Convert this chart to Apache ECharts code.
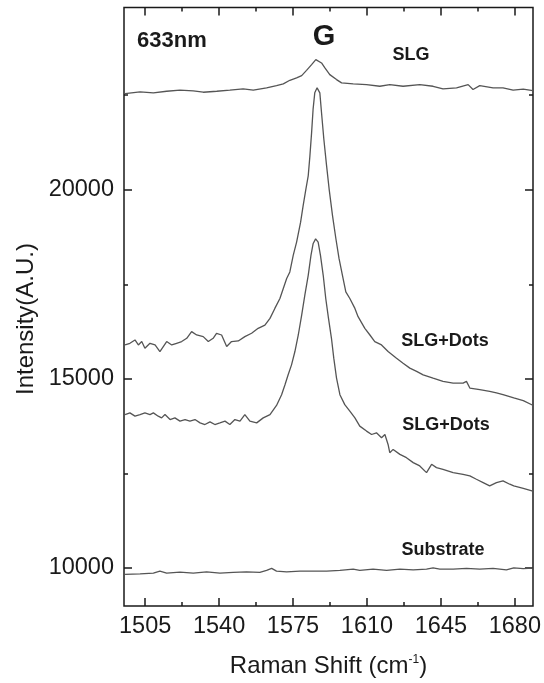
<!DOCTYPE html>
<html>
<head>
<meta charset="utf-8">
<script src="https://cdn.jsdelivr.net/npm/echarts@6/dist/echarts.min.js"></script>
<style>
html,body{margin:0;padding:0;background:#fff;}
#chart{width:544px;height:683px;}
</style>
</head>
<body>
<div id="chart"></div>
<script>
// ---- data ----
const xMajorTicks = [1505, 1540, 1575, 1610, 1645, 1680];
const xMinorTicks = [1522.5, 1557.5, 1592.5, 1627.5, 1662.5];
const yMajorTicks = [10000, 15000, 20000];
const yMinorTicks = [12500, 17500, 22500];

const slgX = [1495.5, 1496.3, 1502.6, 1508.9, 1515.2, 1521.5, 1527.8, 1532.5, 1538.9, 1545.1, 1551.4, 1556.2, 1562.5, 1567.2, 1570.4, 1573.5, 1576.7, 1579.1, 1581.4, 1583.8, 1585.8, 1588.5, 1590.1, 1592.4, 1595.6, 1598.0, 1603.5, 1609.8, 1616.1, 1620.8, 1627.1, 1635.0, 1641.3, 1646.0, 1652.4, 1657.9, 1660.2, 1663.4, 1669.7, 1674.4, 1679.2, 1684.0, 1688.5];
const slgY = [22540, 22563, 22590, 22563, 22605, 22632, 22616, 22579, 22605, 22632, 22668, 22632, 22695, 22755, 22800, 22895, 22958, 23018, 23158, 23308, 23440, 23353, 23221, 23045, 22913, 22826, 22800, 22781, 22737, 22781, 22737, 22781, 22737, 22668, 22695, 22781, 22650, 22755, 22695, 22695, 22632, 22660, 22620];

const dotsAX = [1495.5, 1497.8, 1500.2, 1501.8, 1503.4, 1504.9, 1507.3, 1509.7, 1512.0, 1515.2, 1517.6, 1519.9, 1522.3, 1524.7, 1527.0, 1529.4, 1532.5, 1534.9, 1537.2, 1538.8, 1541.2, 1543.6, 1545.9, 1549.1, 1552.2, 1555.4, 1558.5, 1561.7, 1564.1, 1566.4, 1568.8, 1570.4, 1572.0, 1573.5, 1575.1, 1576.7, 1578.6, 1579.8, 1581.1, 1582.2, 1583.0, 1583.8, 1584.5, 1585.3, 1586.4, 1587.7, 1588.5, 1589.6, 1590.9, 1592.1, 1593.7, 1595.3, 1596.8, 1598.4, 1600.0, 1601.9, 1604.3, 1605.8, 1609.0, 1611.4, 1613.7, 1616.9, 1620.0, 1624.0, 1627.1, 1630.3, 1633.5, 1636.6, 1641.3, 1646.0, 1650.8, 1655.5, 1657.1, 1658.7, 1663.4, 1668.1, 1671.3, 1674.4, 1679.5, 1684.0, 1688.5];
const dotsAY = [15895, 15939, 16026, 15895, 15984, 15808, 15939, 15895, 15721, 15984, 15895, 15939, 15984, 16071, 16247, 16158, 16115, 15984, 16071, 16203, 16158, 15852, 15984, 16000, 16115, 16203, 16334, 16421, 16597, 16861, 17124, 17387, 17650, 17826, 18263, 18616, 19142, 19579, 20018, 20368, 20895, 21510, 22124, 22563, 22695, 22563, 22037, 21334, 20632, 20018, 19316, 18703, 18176, 17737, 17300, 17124, 16861, 16642, 16334, 16158, 15984, 15895, 15721, 15545, 15413, 15282, 15195, 15105, 15018, 14932, 14887, 14887, 14932, 14755, 14711, 14668, 14624, 14580, 14492, 14420, 14300];

const dotsBX = [1495.5, 1497.8, 1500.2, 1502.6, 1504.9, 1507.3, 1508.9, 1511.2, 1512.8, 1514.4, 1516.8, 1519.1, 1521.5, 1523.9, 1526.2, 1528.6, 1531.0, 1533.3, 1535.7, 1538.0, 1540.4, 1542.8, 1545.1, 1547.5, 1549.9, 1552.2, 1554.6, 1557.8, 1560.9, 1564.1, 1567.2, 1569.6, 1571.2, 1572.7, 1574.3, 1575.9, 1577.5, 1579.1, 1580.6, 1582.2, 1583.5, 1584.5, 1585.7, 1586.9, 1588.0, 1589.3, 1590.5, 1591.8, 1593.2, 1594.3, 1595.6, 1597.2, 1599.5, 1601.9, 1604.3, 1606.6, 1609.8, 1612.2, 1614.5, 1616.9, 1618.5, 1620.0, 1620.8, 1622.4, 1625.6, 1628.7, 1631.9, 1635.0, 1638.2, 1640.6, 1642.9, 1646.0, 1650.8, 1655.5, 1658.7, 1661.8, 1665.0, 1668.1, 1671.3, 1674.4, 1677.6, 1679.5, 1684.0, 1688.5];
const dotsBY = [14053, 14097, 14011, 14053, 14097, 14053, 14097, 14011, 13966, 14053, 13921, 13966, 13879, 13921, 13879, 13921, 13834, 13790, 13861, 13790, 13834, 13879, 13790, 13921, 13879, 14053, 13879, 13834, 13966, 14053, 14295, 14579, 14842, 15105, 15368, 15721, 16158, 16684, 17211, 17737, 18263, 18571, 18700, 18616, 18263, 17737, 17124, 16597, 16071, 15545, 15018, 14579, 14316, 14142, 13966, 13747, 13616, 13526, 13571, 13439, 13526, 13263, 13045, 13132, 13000, 12913, 12782, 12695, 12518, 12737, 12650, 12605, 12518, 12474, 12432, 12342, 12255, 12168, 12255, 12300, 12211, 12168, 12100, 12030];

const subX = [1495.5, 1502.6, 1508.9, 1512.0, 1515.2, 1521.5, 1527.8, 1534.1, 1540.4, 1546.7, 1553.0, 1559.3, 1562.5, 1564.9, 1567.2, 1572.0, 1578.3, 1584.5, 1590.9, 1597.2, 1603.5, 1606.6, 1612.9, 1619.3, 1625.6, 1631.9, 1638.2, 1641.3, 1644.5, 1650.8, 1657.1, 1663.4, 1669.7, 1676.0, 1679.5, 1684.0, 1688.5];
const subY = [9826, 9842, 9861, 9913, 9861, 9887, 9861, 9895, 9861, 9879, 9895, 9879, 9932, 9984, 9913, 9895, 9913, 9913, 9913, 9932, 9966, 9932, 9966, 9932, 9966, 9947, 9966, 10000, 9966, 9966, 9984, 9966, 9984, 9947, 10000, 9980, 9990];

const X_MIN = 1495, X_MAX = 1688.6, Y_MIN = 8990, Y_MAX = 24820;

// ---- chart ----
const FONT = '"Liberation Sans", Arial, Helvetica, sans-serif';
const INK = '#1a1a1a';
const LINE = '#555555';
const zip = (xs, ys) => xs.map((x, i) => [x, ys[i]]);
const plain = (v) => String(v);

function xAx(pos, ticks, len, withLabel) {
  const a = {
    type: 'value', gridIndex: 0, position: pos, min: X_MIN, max: X_MAX,
    axisLine: { show: false },
    axisTick: { show: true, inside: true, length: len, customValues: ticks, lineStyle: { color: INK, width: 1.5 } },
    axisLabel: { show: withLabel, customValues: ticks, formatter: plain, fontSize: 23.5, fontFamily: FONT, color: INK, margin: 9 },
    splitLine: { show: false }
  };
  if (withLabel) {
    a.name = '{a|Raman Shift (cm}{s|-1}{a|)}';
    a.nameLocation = 'middle';
    a.nameGap = 48;
    a.nameTextStyle = { rich: {
      a: { fontSize: 24, fontFamily: FONT, color: INK },
      s: { fontSize: 12, fontFamily: FONT, color: INK, verticalAlign: 'top' }
    } };
  }
  return a;
}
function yAx(pos, ticks, len, withLabel) {
  return {
    type: 'value', gridIndex: 0, position: pos, min: Y_MIN, max: Y_MAX,
    axisLine: { show: false },
    axisTick: { show: true, inside: true, length: len, customValues: ticks, lineStyle: { color: INK, width: 1.5 } },
    axisLabel: { show: withLabel, customValues: ticks, formatter: plain, fontSize: 23.5, fontFamily: FONT, color: INK, margin: 10 },
    splitLine: { show: false }
  };
}

function lineSeries(name, data) {
  return {
    name: name, type: 'line', xAxisIndex: 0, yAxisIndex: 0,
    data: data, showSymbol: false, symbol: 'none', smooth: false,
    lineStyle: { color: LINE, width: 1.3 }, silent: true, animation: false
  };
}

const chart = echarts.init(document.getElementById('chart'), null, { renderer: 'canvas' });
const bold = (size) => 'bold ' + size + 'px ' + FONT;
chart.setOption({
  animation: false,
  backgroundColor: '#fff',
  grid: { left: 124, right: 11, top: 7.5, bottom: 74, show: true, borderColor: INK, borderWidth: 1.5, backgroundColor: 'transparent' },
  xAxis: [
    xAx('bottom', xMajorTicks, 8, true),
    xAx('bottom', xMinorTicks, 4, false),
    xAx('top', xMajorTicks, 8, false),
    xAx('top', xMinorTicks, 4, false)
  ],
  yAxis: [
    yAx('left', yMajorTicks, 8, true),
    yAx('left', yMinorTicks, 4, false),
    yAx('right', yMajorTicks, 8, false),
    yAx('right', yMinorTicks, 4, false)
  ],
  series: [
    lineSeries('SLG', zip(slgX, slgY)),
    lineSeries('SLG+Dots A', zip(dotsAX, dotsAY)),
    lineSeries('SLG+Dots B', zip(dotsBX, dotsBY)),
    lineSeries('Substrate', zip(subX, subY))
  ],
  graphic: [
    { type: 'text', x: 26, y: 319, rotation: Math.PI / 2, style: { text: 'Intensity(A.U.)', align: 'center', verticalAlign: 'middle', font: '24px ' + FONT, fill: INK } },
    { type: 'text', style: { text: '633nm', x: 137, y: 41, align: 'left', verticalAlign: 'middle', font: bold(22), fill: INK } },
    { type: 'text', style: { text: 'G', x: 324, y: 37, align: 'center', verticalAlign: 'middle', font: bold(29), fill: INK } },
    { type: 'text', style: { text: 'SLG', x: 411, y: 55, align: 'center', verticalAlign: 'middle', font: bold(18), fill: INK } },
    { type: 'text', style: { text: 'SLG+Dots', x: 445, y: 341, align: 'center', verticalAlign: 'middle', font: bold(18), fill: INK } },
    { type: 'text', style: { text: 'SLG+Dots', x: 446, y: 425, align: 'center', verticalAlign: 'middle', font: bold(18), fill: INK } },
    { type: 'text', style: { text: 'Substrate', x: 443, y: 550, align: 'center', verticalAlign: 'middle', font: bold(18), fill: INK } }
  ]
});
</script>
</body>
</html>
